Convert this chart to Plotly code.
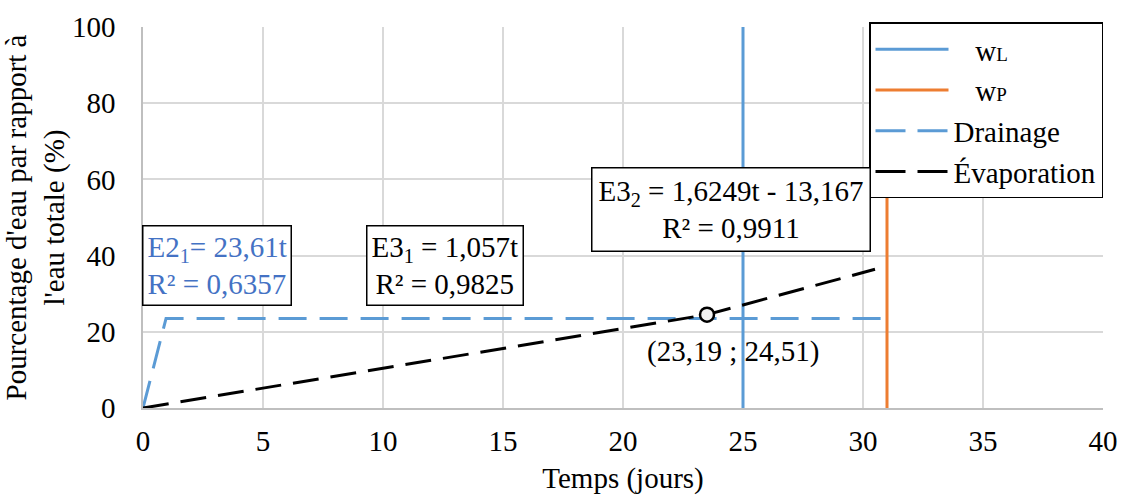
import plotly.graph_objects as go

# Data
wl_x = [25, 25]
wl_y = [0, 100]
wp_x = [31, 31]
wp_y = [0, 100]
drain_x = [0, 0.96, 31.0]
drain_y = [0, 23.5, 23.5]
evap_x = [0, 23.5, 30.5]
evap_y = [0, 24.5, 36.4]
point_x = [23.5]
point_y = [24.5]

FONT = "Liberation Serif"
FS = 29
BLUE = "#5B9BD5"
ORANGE = "#ED7D31"
TEXTBLUE = "#4472C4"

fig = go.Figure()
fig.add_trace(go.Scatter(x=wl_x, y=wl_y, mode="lines", line=dict(color=BLUE, width=3),
                         name="\u00a0\u00a0\u00a0w<span style='font-size:19px'>L</span>"))
fig.add_trace(go.Scatter(x=wp_x, y=wp_y, mode="lines", line=dict(color=ORANGE, width=3),
                         name="\u00a0\u00a0\u00a0w<span style='font-size:19px'>P</span>"))
fig.add_trace(go.Scatter(x=drain_x, y=drain_y, mode="lines", showlegend=False,
                         line=dict(color=BLUE, width=3, dash="28px,13px"), name="Drainage"))
fig.add_trace(go.Scatter(x=evap_x, y=evap_y, mode="lines", showlegend=False,
                         line=dict(color="black", width=3, dash="26px,12px"), name="Évaporation"))
# legend-only entries so the legend sample shows two dashes
fig.add_trace(go.Scatter(x=[None], y=[None], mode="lines", name="Drainage",
                         line=dict(color=BLUE, width=3, dash="30px,12px")))
fig.add_trace(go.Scatter(x=[None], y=[None], mode="lines", name="Évaporation",
                         line=dict(color="black", width=3, dash="30px,12px")))
fig.add_trace(go.Scatter(x=point_x, y=point_y, mode="markers", showlegend=False,
                         marker=dict(size=14, color="#f2f2f2", line=dict(color="black", width=2.5))))

ann_font = dict(family=FONT, size=FS, color="black")
fig.add_annotation(x=3.1, y=37.5, xref="x", yref="y", showarrow=False,
                   text="E2<sub>1</sub>= 23,61t<br>R² = 0,6357",
                   font=dict(family=FONT, size=FS, color=TEXTBLUE),
                   bgcolor="white", bordercolor="black", borderwidth=1.5, borderpad=4, align="left")
fig.add_annotation(x=12.6, y=37.5, xref="x", yref="y", showarrow=False,
                   text="E3<sub>1</sub> = 1,057t<br>R² = 0,9825",
                   font=ann_font, bgcolor="white", bordercolor="black", borderwidth=1.5, borderpad=4)
fig.add_annotation(x=24.5, y=52, xref="x", yref="y", showarrow=False,
                   text="E3<sub>2</sub> = 1,6249t - 13,167<br>R² = 0,9911",
                   font=ann_font, bgcolor="white", bordercolor="black", borderwidth=1.5, borderpad=6)
fig.add_annotation(x=24.6, y=14.7, xref="x", yref="y", showarrow=False,
                   text="(23,19 ; 24,51)", font=ann_font)

fig.update_layout(
    width=1122, height=495,
    margin=dict(l=143, r=19, t=27, b=87),
    paper_bgcolor="white", plot_bgcolor="white",
    font=dict(family=FONT, size=FS, color="black"),
    showlegend=True,
    legend=dict(x=1.0, xanchor="right", y=1.012, yanchor="top",
                bgcolor="white", bordercolor="black", borderwidth=1.5,
                font=dict(family=FONT, size=FS, color="black"),
                tracegroupgap=0, itemwidth=73),
)
fig.update_xaxes(range=[0, 40], dtick=5, showgrid=True, gridcolor="#d9d9d9", gridwidth=1.5,
                 showline=True, linecolor="#bfbfbf", linewidth=1.5, zeroline=False,
                 ticks="", tickfont=dict(family=FONT, size=FS), automargin=False,
                 ticklabelstandoff=6,
                 title=dict(text="Temps (jours)", font=dict(family=FONT, size=FS), standoff=20))
fig.update_yaxes(range=[0, 100], dtick=20, showgrid=True, gridcolor="#d9d9d9", gridwidth=1.5,
                 showline=True, linecolor="#bfbfbf", linewidth=1.5, zeroline=False,
                 ticks="", tickfont=dict(family=FONT, size=FS), automargin=False,
                 ticklabelstandoff=20,
                 title=dict(text="Pourcentage d'eau par rapport à<br>l'eau totale (%)",
                            font=dict(family=FONT, size=FS), standoff=4))

fig.write_html("out.html", config={"displayModeBar": False},
               post_script="document.body.style.margin='0';document.body.style.overflow='hidden';")
